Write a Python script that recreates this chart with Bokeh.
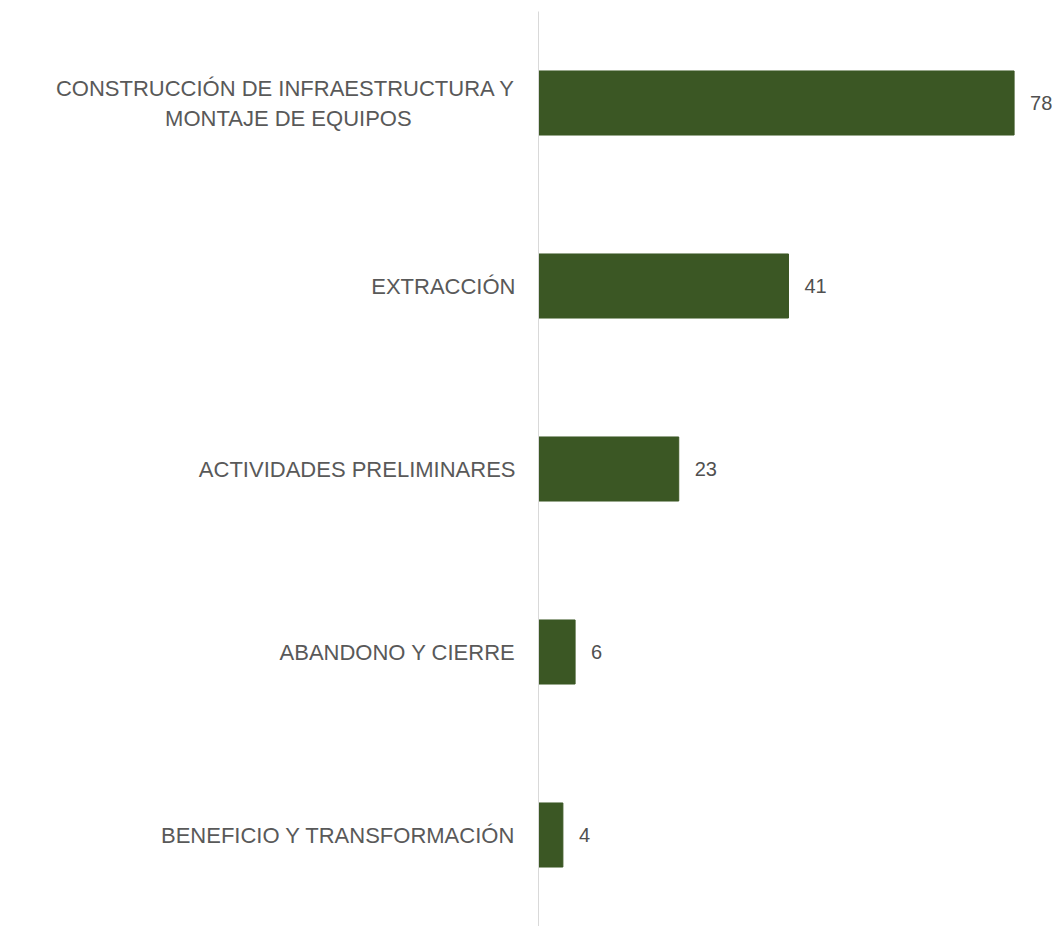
from bokeh.plotting import figure
from bokeh.models import ColumnDataSource, FactorRange, Range1d
from bokeh.core.properties import value
from bokeh.embed import file_html
from bokeh.resources import INLINE

# first label: two lines, second line padded with no-break spaces so it sits centred under the first
categories = [
    "CONSTRUCCIÓN DE INFRAESTRUCTURA Y\nMONTAJE DE EQUIPOS" + "\u00a0" * 17,
    "EXTRACCIÓN",
    "ACTIVIDADES PRELIMINARES",
    "ABANDONO Y CIERRE",
    "BENEFICIO Y TRANSFORMACIÓN",
]
counts = [78, 41, 23, 6, 4]
count_labels = [str(v) for v in counts]

source = ColumnDataSource(data=dict(cat=categories, val=counts, lbl=count_labels))

p = figure(
    width=1052, height=926,
    y_range=FactorRange(*reversed(categories)),
    x_range=Range1d(0, 84.3),
    output_backend="svg", toolbar_location=None,
    min_border_left=538, min_border_right=0, min_border_top=11, min_border_bottom=0,
)
p.hbar(y="cat", right="val", left=0, height=0.35, source=source,
       fill_color="#3B5724", line_color="#3B5724")
p.text(x="val", y="cat", text="lbl", source=source, x_offset=16,
       text_baseline="middle", text_align="left",
       text_font=value("Liberation Sans"), text_font_size="20px", text_color="#505050")

p.xaxis.visible = False
p.xgrid.grid_line_color = None
p.ygrid.grid_line_color = None
p.outline_line_color = None
yax = p.yaxis[0]
yax.axis_line_color = "#d9d9d9"
yax.axis_line_width = 1
yax.major_tick_line_color = None
yax.minor_tick_line_color = None
yax.major_tick_out = 0
yax.major_label_standoff = 23
yax.major_label_text_font = "Liberation Sans"
yax.major_label_text_font_size = "22px"
yax.major_label_text_color = "#595959"

open("out.html", "w").write(file_html(p, INLINE))
